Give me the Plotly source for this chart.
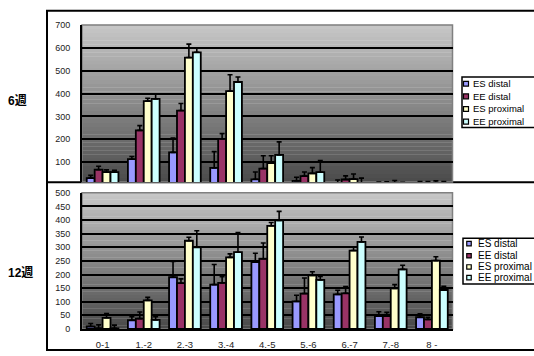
import plotly.graph_objects as go

# ---- data -------------------------------------------------------------
categories = ["0-1", "1.-2", "2.-3", "3.-4", "4.-5", "5.-6", "6.-7", "7.-8", "8 -"]
series_names = ["ES distal", "EE distal", "ES proximal", "EE proximal"]
panel_labels = ["6週", "12週"]

# 6 weeks
es_distal_6 = [30, 113, 143, 75, 25, 18, 8, 5, 5]
es_distal_6_err = [12, 12, 63, 71, 32, 16, 14, 8, 10]
ee_distal_6 = [67, 239, 326, 202, 72, 39, 24, 8, 5]
ee_distal_6_err = [15, 21, 31, 23, 56, 18, 16, 6, 10]
es_proximal_6 = [56, 367, 558, 411, 96, 51, 26, 10, 6]
es_proximal_6_err = [10, 13, 59, 72, 32, 25, 22, 10, 12]
ee_proximal_6 = [56, 377, 581, 451, 132, 56, 5, 6, 5]
ee_proximal_6_err = [8, 20, 19, 22, 57, 51, 25, 6, 10]

# 12 weeks
es_distal_12 = [9, 32, 190, 163, 246, 101, 127, 47, 43]
es_distal_12_err = [11, 13, 58, 74, 32, 23, 15, 16, 13]
ee_distal_12 = [2, 38, 168, 169, 258, 130, 131, 47, 35]
ee_distal_12_err = [13, 24, 16, 23, 58, 57, 25, 14, 8]
es_proximal_12 = [41, 105, 324, 263, 379, 197, 288, 149, 251]
es_proximal_12_err = [16, 11, 13, 13, 12, 13, 12, 14, 14]
ee_proximal_12 = [2, 33, 300, 282, 399, 180, 320, 219, 143]
ee_proximal_12_err = [12, 12, 61, 72, 33, 13, 18, 15, 14]

ticks_6 = [100, 200, 300, 400, 500, 600, 700]
ticks_12 = [0, 50, 100, 150, 200, 250, 300, 350, 400, 450, 500]

colors = ["#9999FF", "#993366", "#FFFFCC", "#CCFFFF"]

W, H = 534, 356
FONT = "Arial, Liberation Sans, Noto Sans CJK JP, sans-serif"


def px_x(p):
    return p / W


def px_y(p):
    return 1 - p / H


fig = go.Figure()

panels = [
    ("x", "y", [es_distal_6, ee_distal_6, es_proximal_6, ee_proximal_6],
     [es_distal_6_err, ee_distal_6_err, es_proximal_6_err, ee_proximal_6_err]),
    ("x2", "y2", [es_distal_12, ee_distal_12, es_proximal_12, ee_proximal_12],
     [es_distal_12_err, ee_distal_12_err, es_proximal_12_err, ee_proximal_12_err]),
]

for xa, ya, vals, errs in panels:
    for name, v, e, c in zip(series_names, vals, errs, colors):
        fig.add_trace(go.Bar(
            x=categories, y=v, name=name, xaxis=xa, yaxis=ya,
            marker=dict(color=c, line=dict(color="black", width=1.8)),
            error_y=dict(type="data", array=e, arrayminus=[0] * len(e),
                         symmetric=False, color="black", thickness=1.6, width=2.5),
            showlegend=False,
        ))

# plot-area geometry (pixels)
PL, PR = 82, 452.5
TOP_T, TOP_B = 20.7, 182
BOT_T, BOT_B = 193.3, 333.3

axis_font = dict(family=FONT, size=9, color="#222")

fig.update_layout(
    width=W, height=H,
    margin=dict(l=0, r=0, t=0, b=0),
    paper_bgcolor="white",
    plot_bgcolor="rgba(0,0,0,0)",
    barmode="group", bargap=0.23, bargroupgap=0,
    xaxis=dict(domain=[px_x(PL), px_x(PR)], range=[-0.5, 8.5], anchor="y",
               showticklabels=False, showgrid=False, zeroline=False, showline=False),
    yaxis=dict(domain=[px_y(TOP_B), px_y(TOP_T)], range=[13.6, 700], anchor="x",
               tickvals=ticks_6, showgrid=True, gridcolor="black", gridwidth=2,
               zeroline=False, showline=True, linecolor="black", linewidth=2,
               tickfont=axis_font, ticklabelstandoff=8),
    xaxis2=dict(domain=[px_x(PL), px_x(PR)], range=[-0.5, 8.5], anchor="y2",
                showgrid=False, zeroline=False, showline=True, linecolor="black",
                linewidth=2, tickfont=dict(family=FONT, size=9.5, color="#222"),
                ticklabelstandoff=6),
    yaxis2=dict(domain=[px_y(BOT_B), px_y(BOT_T)], range=[0, 500], anchor="x2",
                tickvals=ticks_12, showgrid=True, gridcolor="black", gridwidth=2,
                zeroline=False, showline=True, linecolor="black", linewidth=2,
                tickfont=axis_font, ticklabelstandoff=8),
)

shapes = []
# outer frames of the two panels
shapes.append(dict(type="rect", xref="paper", yref="paper", layer="below",
                   x0=px_x(47), x1=px_x(545), y0=px_y(230), y1=px_y(6),
                   line=dict(color="black", width=2), fillcolor="white"))
shapes.append(dict(type="rect", xref="paper", yref="paper", layer="below",
                   x0=px_x(47), x1=px_x(545), y0=px_y(355), y1=px_y(182.5),
                   line=dict(color="black", width=2), fillcolor="white"))

# vertical grey gradient in each plot area
def gradient(xref, yref, frac_bottom):
    out = []
    n = 40
    top_c = (200, 200, 200)
    bot_c = (72, 72, 72)
    for i in range(n):
        y0 = i / n
        y1 = (i + 1) / n
        t = 1 - (y0 + y1) / 2
        t = t * frac_bottom
        c = tuple(int(round(a + (b - a) * t)) for a, b in zip(top_c, bot_c))
        out.append(dict(type="rect", xref=xref, yref=yref, layer="below",
                        x0=0, x1=1, y0=y0, y1=y1 + 0.002,
                        line=dict(width=0), fillcolor="rgb(%d,%d,%d)" % c))
    out.append(dict(type="rect", xref=xref, yref=yref, layer="below",
                    x0=0, x1=1, y0=0, y1=1,
                    line=dict(color="#808080", width=1.5), fillcolor="rgba(0,0,0,0)"))
    return out

shapes += gradient("x domain", "y domain", (TOP_B - TOP_T) / (185.2 - TOP_T))
shapes += gradient("x2 domain", "y2 domain", 1.0)

annotations = []
# legends, one per panel
legend_specs = [
    dict(box=(462, 74, 545, 126), rows=[81, 94, 107, 120], sym_x=466, txt_x=471,
         sym=5, size=9.5),
    dict(box=(463, 240, 545, 287), rows=[245.5, 258, 269.5, 280.5], sym_x=469,
         txt_x=476, sym=4.5, size=10),
]
for spec in legend_specs:
    x0, y0, x1, y1 = spec["box"]
    shapes.append(dict(type="rect", xref="paper", yref="paper", layer="above",
                       x0=px_x(x0), x1=px_x(x1), y0=px_y(y1), y1=px_y(y0),
                       line=dict(color="black", width=1.5), fillcolor="white"))
    for name, c, ry in zip(series_names, colors, spec["rows"]):
        s = spec["sym"]
        shapes.append(dict(type="rect", xref="paper", yref="paper", layer="above",
                           x0=px_x(spec["sym_x"] - s / 2), x1=px_x(spec["sym_x"] + s / 2),
                           y0=px_y(ry + s / 2), y1=px_y(ry - s / 2),
                           line=dict(color="black", width=1.2), fillcolor=c))
        annotations.append(dict(xref="paper", yref="paper", x=px_x(spec["txt_x"]),
                                y=px_y(ry), text=name, showarrow=False,
                                xanchor="left", yanchor="middle",
                                font=dict(family=FONT, size=spec["size"], color="black")))

# week labels at the left of each panel
for label, cy in zip(panel_labels, [98, 275]):
    annotations.append(dict(xref="paper", yref="paper", x=px_x(6), y=px_y(cy),
                            text="<b>%s</b>" % label, showarrow=False,
                            xanchor="left", yanchor="middle",
                            font=dict(family=FONT, size=12, color="black")))

fig.update_layout(shapes=shapes, annotations=annotations)

fig.write_html("out.html")
